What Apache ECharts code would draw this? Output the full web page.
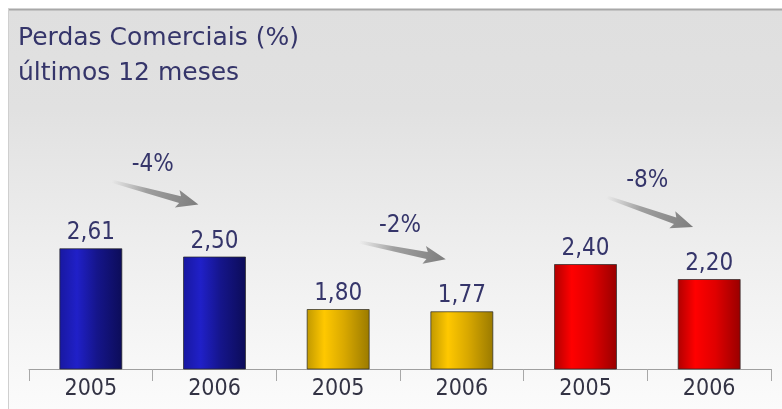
<!DOCTYPE html>
<html>
<head>
<meta charset="utf-8">
<script src="https://cdn.jsdelivr.net/npm/echarts@6/dist/echarts.min.js"></script>
<style>
html,body{margin:0;padding:0;background:#fff;}
#c{width:782px;height:409px;}
</style>
</head>
<body>
<div id="c"></div>
<script>
// ---- data ----
var titleLines = ['Perdas Comerciais (%)', 'últimos 12 meses'];
var categories = ['2005', '2006', '2005', '2006', '2005', '2006'];
var values = [2.61, 2.50, 1.80, 1.77, 2.40, 2.20];
var groupIndex = [0, 0, 1, 1, 2, 2];
var changeFrom = [0, 2, 4];
var changeLabels = ['-4%', '-2%', '-8%'];

// ---- styles ----
var FONT = '"DejaVu Sans Condensed", "Noto Sans", sans-serif';
var TITLE_FONT = '"DejaVu Sans", "Noto Sans", sans-serif';
var TEXT = '#35356a';
var palettes = [
  ['#1818a0', '#2020c8', '#15158a', '#0c0c58'],
  ['#c09800', '#ffc800', '#d8a800', '#9a7a00'],
  ['#b00000', '#ff0000', '#e00000', '#980000']
];
function barGrad(p) {
  return {type: 'linear', x: 0, y: 0, x2: 1, y2: 0, colorStops: [
    {offset: 0, color: p[0]}, {offset: 0.28, color: p[1]},
    {offset: 0.6, color: p[2]}, {offset: 1, color: p[3]}]};
}

var barData = values.map(function (v, i) {
  return {value: v, itemStyle: {color: barGrad(palettes[groupIndex[i]])}};
});
var arrowData = changeFrom.map(function (i, k) {
  return [i, values[i], values[i + 1], k];
});

var chart = echarts.init(document.getElementById('c'), null, {renderer: 'canvas'});
chart.setOption({
  animation: false,
  backgroundColor: '#ffffff',
  textStyle: {fontFamily: FONT},
  graphic: [
    {type: 'rect', z: -10, silent: true, shape: {x: 8, y: 9, width: 774, height: 400},
     style: {fill: {type: 'linear', x: 0, y: 0, x2: 0, y2: 1, colorStops: [
       {offset: 0, color: '#dfdfdf'}, {offset: 0.25, color: '#e1e1e1'},
       {offset: 0.6, color: '#eeeeee'}, {offset: 0.9, color: '#f8f8f8'}, {offset: 1, color: '#fbfbfb'}]}}},
    {type: 'line', z: -9, silent: true, shape: {x1: 8, y1: 9.5, x2: 782, y2: 9.5}, style: {stroke: '#a8a8a8', lineWidth: 2}},
    {type: 'line', z: -9, silent: true, shape: {x1: 8.5, y1: 9, x2: 8.5, y2: 409}, style: {stroke: '#cfcfcf', lineWidth: 1}}
  ],
  title: {
    text: titleLines.join('\n'),
    left: 13, top: 16,
    textStyle: {fontFamily: TITLE_FONT, fontSize: 25, fontWeight: 'normal', color: TEXT, lineHeight: 35}
  },
  grid: {left: 29, right: 11, top: 144, bottom: 40, containLabel: false},
  xAxis: {
    type: 'category',
    data: categories,
    axisLine: {lineStyle: {color: '#a0a0a0', width: 1}},
    axisTick: {show: true, length: 12, lineStyle: {color: '#a8a8a8'}},
    axisLabel: {fontFamily: FONT, fontSize: 23, color: '#333344', margin: 9}
  },
  yAxis: {type: 'value', min: 1, max: 4, show: false, splitLine: {show: false}},
  series: [
    {
      type: 'bar',
      data: barData,
      barWidth: 63,
      itemStyle: {borderColor: 'rgba(40,40,40,0.7)', borderWidth: 1},
      label: {
        show: true, position: 'top', distance: 3,
        fontFamily: FONT, fontSize: 24, color: TEXT,
        formatter: function (p) { return p.value.toFixed(2).replace('.', ','); }
      }
    },
    {
      type: 'custom',
      data: arrowData,
      clip: false,
      z: 5,
      renderItem: function (params, api) {
        var i = api.value(0);
        var bw = api.size([1, 0])[0];
        var a = api.coord([i, api.value(1)]);
        var b = api.coord([i + 1, api.value(2)]);
        var k = api.value(3);
        var tail = [a[0] + 0.17 * bw, a[1] - 67];
        var tip = [b[0] - 0.13 * bw, b[1] - 52];
        var dx = tip[0] - tail[0], dy = tip[1] - tail[1];
        var L = Math.sqrt(dx * dx + dy * dy);
        var ux = dx / L, uy = dy / L, nx = -uy, ny = ux;
        var headLen = 19;
        var neck = [tip[0] - ux * headLen, tip[1] - uy * headLen];
        function P(base, w, back) {
          return [base[0] + nx * w - ux * (back || 0), base[1] + ny * w - uy * (back || 0)];
        }
        var pts = [P(tail, 1.5), P(neck, 3.5), P(neck, 9, 3), tip, P(neck, -9, 3), P(neck, -3.5), P(tail, -1.5)];
        return {
          type: 'group',
          children: [
            {type: 'polygon', shape: {points: pts},
             style: {fill: {type: 'linear', global: true, x: tail[0], y: tail[1], x2: tip[0], y2: tip[1],
               colorStops: [{offset: 0, color: 'rgba(150,150,150,0)'}, {offset: 0.4, color: 'rgba(140,140,140,0.8)'},
                            {offset: 1, color: 'rgba(125,125,125,1)'}]}}},
            {type: 'text', style: {text: changeLabels[k], x: a[0] + 0.5 * bw, y: a[1] - 83,
               align: 'center', verticalAlign: 'middle', font: '24px ' + FONT, fill: TEXT}}
          ]
        };
      }
    }
  ]
});
</script>
</body>
</html>
